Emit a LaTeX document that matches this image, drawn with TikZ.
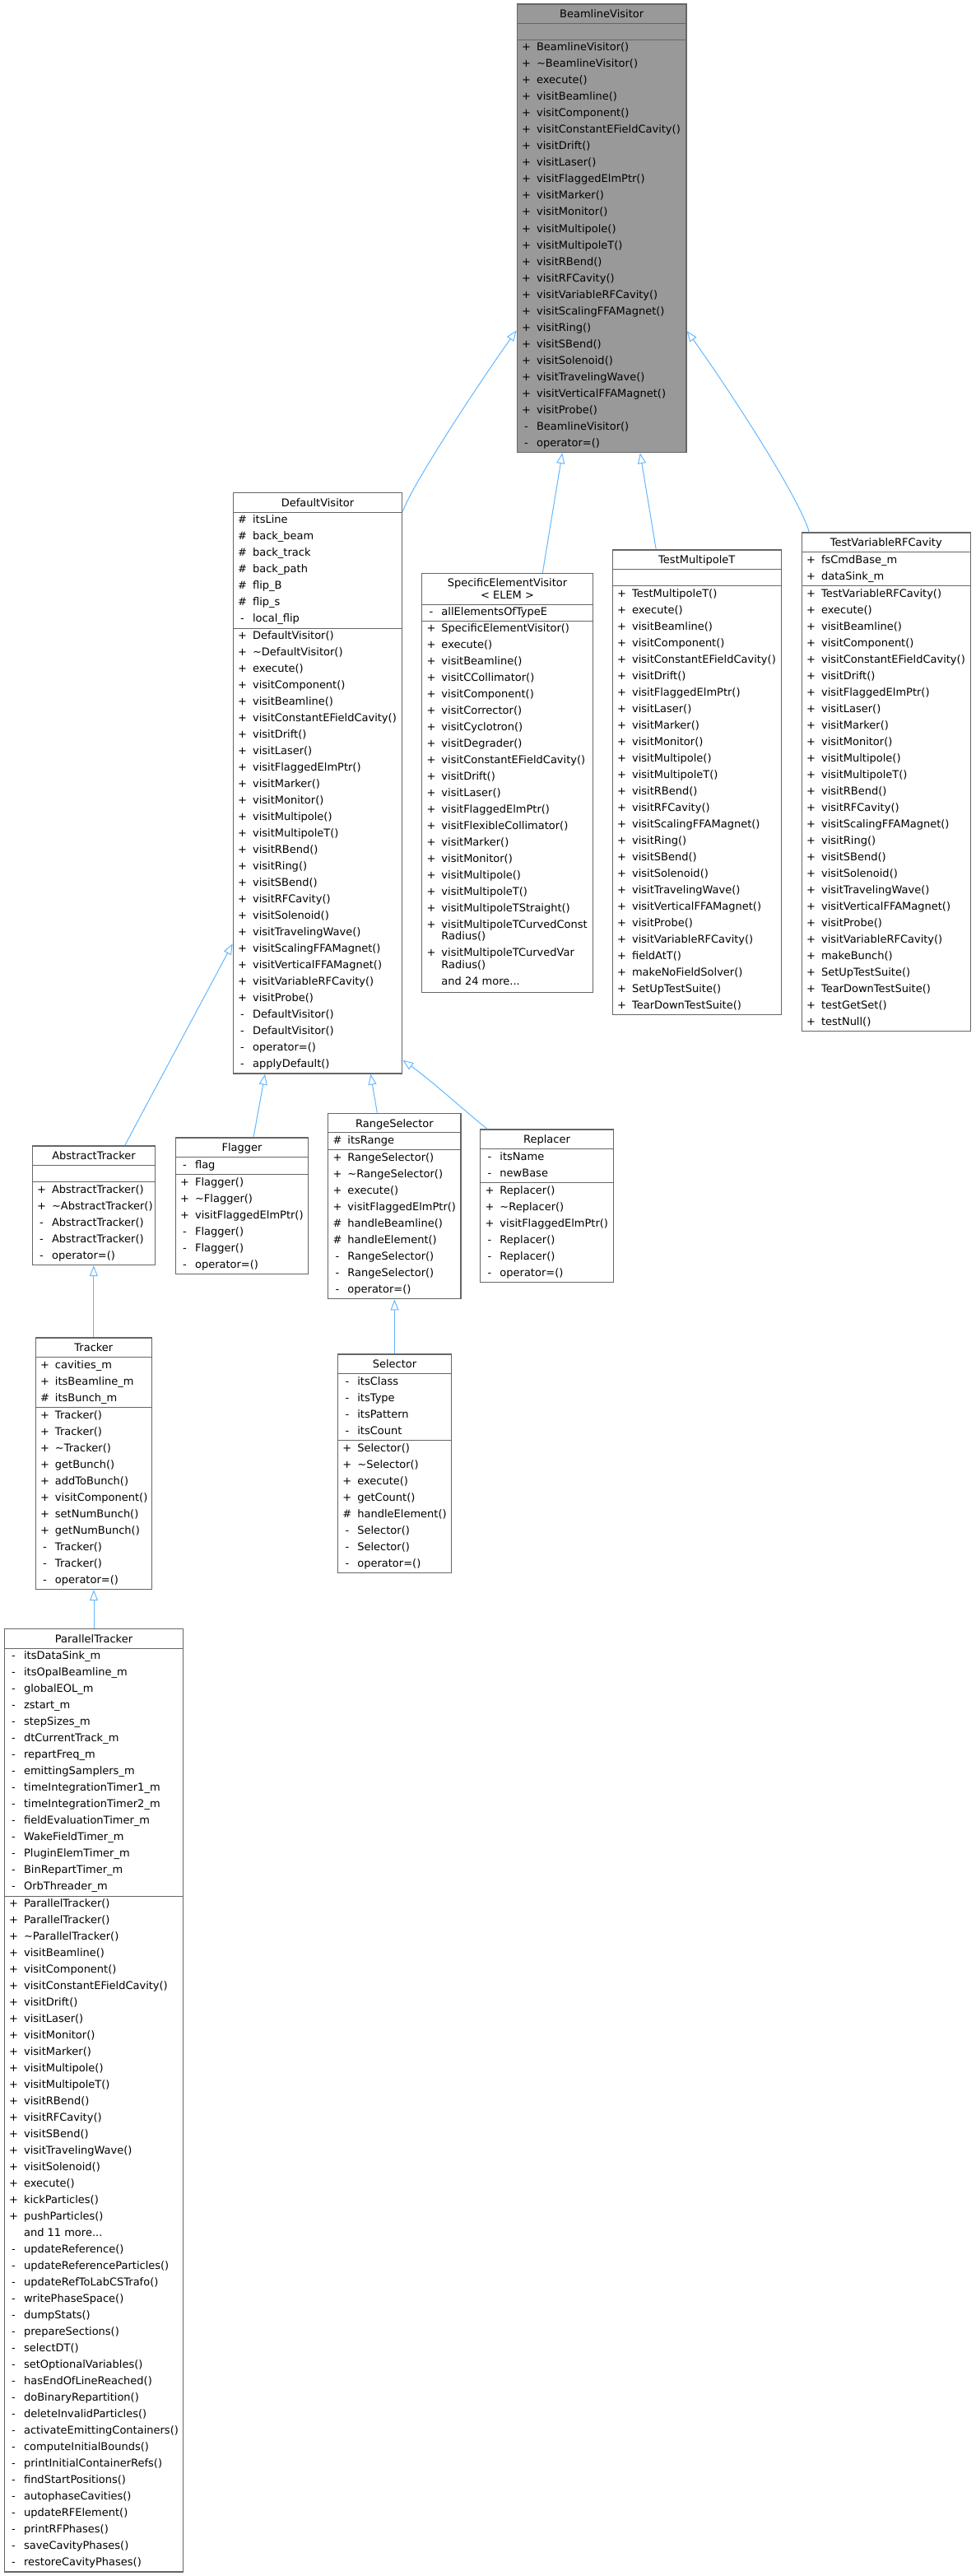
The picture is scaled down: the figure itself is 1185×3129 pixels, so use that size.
\documentclass[tikz,border=0pt]{standalone}
\usepackage{fontspec}
\setmainfont{DejaVu Sans}
\usetikzlibrary{arrows.meta,fit,calc}
\definecolor{edgeblue}{HTML}{63B8FF}
\definecolor{boxline}{HTML}{666666}
\definecolor{rootfill}{HTML}{999999}
\newcommand\rowfont{\fontsize{9.75pt}{12pt}\selectfont}
\newcommand\sym[1]{\makebox[10.5pt][c]{#1}\hspace{4.125pt}}
\newcommand\andmore[1]{and #1 more...}
\def\cbfill{white}
\tikzset{
 clsbox/.style={draw=boxline, line width=1pt, fill=\cbfill, inner sep=0pt},
 sepline/.style={draw=boxline, line width=0.75pt},
 rowtext/.style={font=\rowfont, inner sep=0pt, anchor=base west, text=black},
 titletext/.style={font=\rowfont, inner sep=0pt, anchor=base, text=black},
 inherit/.style={draw=edgeblue, line width=0.75pt, -{Triangle[open, length=9.75pt, width=7.5pt]}},
}
\newcommand\ClassBox[9]{%
 \pgfmathsetmacro\cbA{#4+23.5}%
 \pgfmathsetmacro\cbM{\cbA+ifthenelse(#6==0,20,20*#6+1)}%
 \pgfmathsetmacro\cbB{\cbM+20*#8+1}%
 \pgfmathsetmacro\cbX{(#2+#3)/2}%
 \node[clsbox, fit={(#2,#4) (#3,\cbB)}] (#1) {};%
 \draw[sepline] (#2,\cbA) -- (#3,\cbA);%
 \draw[sepline] (#2,\cbM) -- (#3,\cbM);%
 \node[titletext] (#1-title) at (\cbX,#4+16.8) {#5};%
 \ifnum#6>0
 \foreach \vs/\vt [count=\k from 0] in {#7} {\node[rowtext] (#1-a\k) at (#2+4,\cbA+13.5+20*\k) {\sym{\vs}\vt};}%
 \fi
 \foreach \vs/\vt [count=\k from 0] in {#9} {\node[rowtext] (#1-m\k) at (#2+4,\cbM+13.5+20*\k) {\sym{\vs}\vt};}%
}
\begin{document}
\begin{tikzpicture}[x=0.75pt,y=-0.75pt]
\fill[white] (0,0) rectangle (1185,3129);
\useasboundingbox (0,0) rectangle (1185,3129);

\def\cbfill{rootfill}
\ClassBox{BV}{628.3}{834}{5}{BeamlineVisitor}{0}{}{25}{%
+/BeamlineVisitor(),
+/\textasciitilde BeamlineVisitor(),
+/execute(),
+/visitBeamline(),
+/visitComponent(),
+/visitConstantEFieldCavity(),
+/visitDrift(),
+/visitLaser(),
+/visitFlaggedElmPtr(),
+/visitMarker(),
+/visitMonitor(),
+/visitMultipole(),
+/visitMultipoleT(),
+/visitRBend(),
+/visitRFCavity(),
+/visitVariableRFCavity(),
+/visitScalingFFAMagnet(),
+/visitRing(),
+/visitSBend(),
+/visitSolenoid(),
+/visitTravelingWave(),
+/visitVerticalFFAMagnet(),
+/visitProbe(),
-/BeamlineVisitor(),
-/operator=()}
\def\cbfill{white}

\ClassBox{DV}{283.3}{488.7}{598.5}{DefaultVisitor}{7}{%
\#/itsLine,
\#/back\_beam,
\#/back\_track,
\#/back\_path,
\#/flip\_B,
\#/flip\_s,
-/local\_flip}{27}{%
+/DefaultVisitor(),
+/\textasciitilde DefaultVisitor(),
+/execute(),
+/visitComponent(),
+/visitBeamline(),
+/visitConstantEFieldCavity(),
+/visitDrift(),
+/visitLaser(),
+/visitFlaggedElmPtr(),
+/visitMarker(),
+/visitMonitor(),
+/visitMultipole(),
+/visitMultipoleT(),
+/visitRBend(),
+/visitRing(),
+/visitSBend(),
+/visitRFCavity(),
+/visitSolenoid(),
+/visitTravelingWave(),
+/visitScalingFFAMagnet(),
+/visitVerticalFFAMagnet(),
+/visitVariableRFCavity(),
+/visitProbe(),
-/DefaultVisitor(),
-/DefaultVisitor(),
-/operator=(),
-/applyDefault()}

% SpecificElementVisitor (two-line title and wrapped rows)
\node[clsbox, fit={(512.7,696.5) (720.3,1205.4)}] (SEV) {};
\draw[sepline] (512.7,734.3) -- (720.3,734.3);
\draw[sepline] (512.7,754) -- (720.3,754);
\node[titletext] (SEV-title) at (616.5,712.7) {SpecificElementVisitor};
\node[titletext] (SEV-title2) at (616.5,727.7) {< ELEM >};
\node[rowtext] (SEV-a0) at (516.7,747.7) {\sym{-}allElementsOfTypeE};
\foreach \vs/\vt [count=\k from 0] in {%
+/SpecificElementVisitor(),
+/execute(),
+/visitBeamline(),
+/visitCCollimator(),
+/visitComponent(),
+/visitCorrector(),
+/visitCyclotron(),
+/visitDegrader(),
+/visitConstantEFieldCavity(),
+/visitDrift(),
+/visitLaser(),
+/visitFlaggedElmPtr(),
+/visitFlexibleCollimator(),
+/visitMarker(),
+/visitMonitor(),
+/visitMultipole(),
+/visitMultipoleT(),
+/visitMultipoleTStraight()}
{\node[rowtext] (SEV-m\k) at (516.7,767.5+20*\k) {\sym{\vs}\vt};}
\node[rowtext] (SEV-m18) at (516.7,1127.5) {\sym{+}visitMultipoleTCurvedConst};
\node[rowtext] (SEV-m18b) at (516.7,1141.5) {\sym{}Radius()};
\node[rowtext] (SEV-m19) at (516.7,1161.5) {\sym{+}visitMultipoleTCurvedVar};
\node[rowtext] (SEV-m19b) at (516.7,1176) {\sym{}Radius()};
\node[rowtext] (SEV-m20) at (516.7,1196.5) {\sym{}\andmore{24}};

\ClassBox{TMT}{744.3}{949.3}{668}{TestMultipoleT}{0}{}{26}{%
+/TestMultipoleT(),
+/execute(),
+/visitBeamline(),
+/visitComponent(),
+/visitConstantEFieldCavity(),
+/visitDrift(),
+/visitFlaggedElmPtr(),
+/visitLaser(),
+/visitMarker(),
+/visitMonitor(),
+/visitMultipole(),
+/visitMultipoleT(),
+/visitRBend(),
+/visitRFCavity(),
+/visitScalingFFAMagnet(),
+/visitRing(),
+/visitSBend(),
+/visitSolenoid(),
+/visitTravelingWave(),
+/visitVerticalFFAMagnet(),
+/visitProbe(),
+/visitVariableRFCavity(),
+/fieldAtT(),
+/makeNoFieldSolver(),
+/SetUpTestSuite(),
+/TearDownTestSuite()}

\ClassBox{TVRF}{974.3}{1179.3}{647}{TestVariableRFCavity}{2}{%
+/fsCmdBase\_m,
+/dataSink\_m}{27}{%
+/TestVariableRFCavity(),
+/execute(),
+/visitBeamline(),
+/visitComponent(),
+/visitConstantEFieldCavity(),
+/visitDrift(),
+/visitFlaggedElmPtr(),
+/visitLaser(),
+/visitMarker(),
+/visitMonitor(),
+/visitMultipole(),
+/visitMultipoleT(),
+/visitRBend(),
+/visitRFCavity(),
+/visitScalingFFAMagnet(),
+/visitRing(),
+/visitSBend(),
+/visitSolenoid(),
+/visitTravelingWave(),
+/visitVerticalFFAMagnet(),
+/visitProbe(),
+/visitVariableRFCavity(),
+/makeBunch(),
+/SetUpTestSuite(),
+/TearDownTestSuite(),
+/testGetSet(),
+/testNull()}

\ClassBox{AT}{39.3}{188.7}{1392}{AbstractTracker}{0}{}{5}{%
+/AbstractTracker(),
+/\textasciitilde AbstractTracker(),
-/AbstractTracker(),
-/AbstractTracker(),
-/operator=()}

\ClassBox{FL}{213.3}{374.7}{1382}{Flagger}{1}{-/flag}{6}{%
+/Flagger(),
+/\textasciitilde Flagger(),
+/visitFlaggedElmPtr(),
-/Flagger(),
-/Flagger(),
-/operator=()}

\ClassBox{RS}{398.7}{560}{1352.3}{RangeSelector}{1}{\#/itsRange}{9}{%
+/RangeSelector(),
+/\textasciitilde RangeSelector(),
+/execute(),
+/visitFlaggedElmPtr(),
\#/handleBeamline(),
\#/handleElement(),
-/RangeSelector(),
-/RangeSelector(),
-/operator=()}

\ClassBox{RP}{583.7}{745.3}{1372}{Replacer}{2}{%
-/itsName,
-/newBase}{6}{%
+/Replacer(),
+/\textasciitilde Replacer(),
+/visitFlaggedElmPtr(),
-/Replacer(),
-/Replacer(),
-/operator=()}

\ClassBox{TR}{43.2}{184.5}{1625}{Tracker}{3}{%
+/cavities\_m,
+/itsBeamline\_m,
\#/itsBunch\_m}{11}{%
+/Tracker(),
+/Tracker(),
+/\textasciitilde Tracker(),
+/getBunch(),
+/addToBunch(),
+/visitComponent(),
+/setNumBunch(),
+/getNumBunch(),
-/Tracker(),
-/Tracker(),
-/operator=()}

\ClassBox{SE}{410.6}{548.4}{1645}{Selector}{4}{%
-/itsClass,
-/itsType,
-/itsPattern,
-/itsCount}{8}{%
+/Selector(),
+/\textasciitilde Selector(),
+/execute(),
+/getCount(),
\#/handleElement(),
-/Selector(),
-/Selector(),
-/operator=()}

\ClassBox{PT}{5.3}{222.7}{1978.5}{ParallelTracker}{15}{%
-/itsDataSink\_m,
-/itsOpalBeamline\_m,
-/globalEOL\_m,
-/zstart\_m,
-/stepSizes\_m,
-/dtCurrentTrack\_m,
-/repartFreq\_m,
-/emittingSamplers\_m,
-/timeIntegrationTimer1\_m,
-/timeIntegrationTimer2\_m,
-/fieldEvaluationTimer\_m,
-/WakeFieldTimer\_m,
-/PluginElemTimer\_m,
-/BinRepartTimer\_m,
-/OrbThreader\_m}{41}{%
+/ParallelTracker(),
+/ParallelTracker(),
+/\textasciitilde ParallelTracker(),
+/visitBeamline(),
+/visitComponent(),
+/visitConstantEFieldCavity(),
+/visitDrift(),
+/visitLaser(),
+/visitMonitor(),
+/visitMarker(),
+/visitMultipole(),
+/visitMultipoleT(),
+/visitRBend(),
+/visitRFCavity(),
+/visitSBend(),
+/visitTravelingWave(),
+/visitSolenoid(),
+/execute(),
+/kickParticles(),
+/pushParticles(),
/\andmore{11},
-/updateReference(),
-/updateReferenceParticles(),
-/updateRefToLabCSTrafo(),
-/writePhaseSpace(),
-/dumpStats(),
-/prepareSections(),
-/selectDT(),
-/setOptionalVariables(),
-/hasEndOfLineReached(),
-/doBinaryRepartition(),
-/deleteInvalidParticles(),
-/activateEmittingContainers(),
-/computeInitialBounds(),
-/printInitialContainerRefs(),
-/findStartPositions(),
-/autophaseCavities(),
-/updateRFElement(),
-/printRFPhases(),
-/saveCavityPhases(),
-/restoreCavityPhases()}

% inheritance connectors (child -> parent)
\draw[inherit] ($(DV.north east)+(0,23.5)$) .. controls +(11,-32) and +(-45,63) .. ($(BV.north west)+(0,397)$);
\draw[inherit] ($(SEV.north west)+(147.3,0)$) -- ($(BV.south west)+(55.7,0)$);
\draw[inherit] ($(TMT.north west)+(53.6,0)$) -- ($(BV.south west)+(150.2,0)$);
\draw[inherit] ($(TVRF.north west)+(9.7,0)$) .. controls +(-14,-47) and +(40,55) .. ($(BV.north east)+(0,397.7)$);
\draw[inherit] ($(AT.north west)+(113,0)$) -- ($(DV.north west)+(0,548.5)$);
\draw[inherit] ($(FL.north west)+(95.4,0)$) -- ($(DV.south west)+(39.4,0)$);
\draw[inherit] ($(RS.north west)+(60.3,0)$) -- ($(DV.south west)+(167.7,0)$);
\draw[inherit] ($(RP.north west)+(9,0)$) .. controls +(-25,-20) and +(35,25) .. ($(DV.south east)+(0,-17)$);
\draw[inherit] (TR.north) -- (TR.north |- AT.south);
\draw[inherit] (PT.north) -- (PT.north |- TR.south);
\draw[inherit] (SE.north) -- (SE.north |- RS.south);
\end{tikzpicture}
\end{document}
